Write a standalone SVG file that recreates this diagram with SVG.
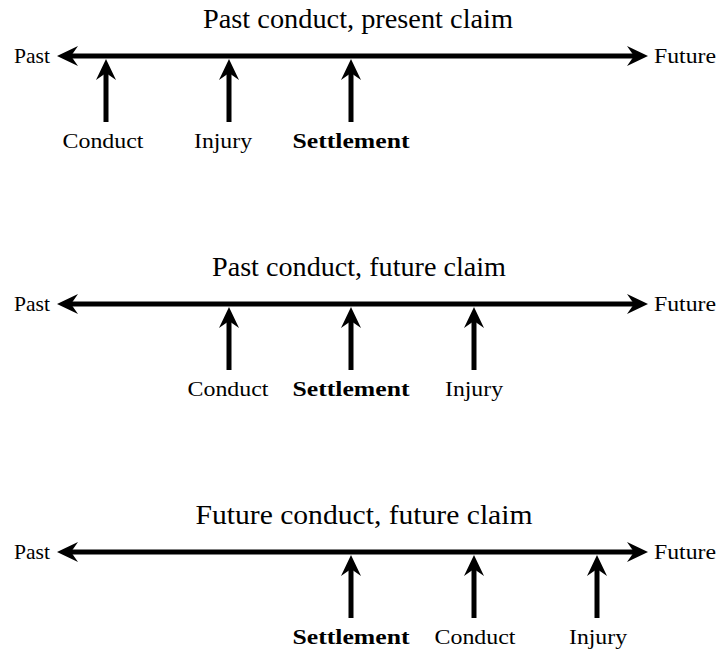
<svg xmlns="http://www.w3.org/2000/svg" width="717" height="652" viewBox="0 0 717 652">
<defs>
<marker id="head" viewBox="-22 -11 23 22" refX="-13" refY="0" markerWidth="23" markerHeight="22" markerUnits="userSpaceOnUse" orient="auto-start-reverse">
<path d="M0,0 L-21,-10 L-14,0 L-21,10 Z" fill="#000"/>
</marker>
</defs>
<style>
.ln{stroke:#000;stroke-width:5;fill:none}
.tl{marker-start:url(#head);marker-end:url(#head)}
.ev{marker-end:url(#head)}
text{font-family:"Liberation Serif","Times New Roman",serif;fill:#000}
.title{font-size:27px;text-anchor:middle}
.lab{font-size:22px;text-anchor:middle}
.b{font-weight:bold}
.end{font-size:21px}
</style>
<g id="connectors">
<line class="ln tl" x1="70" y1="56" x2="635" y2="56"/>
<line class="ln ev" x1="106" y1="122" x2="106" y2="72"/>
<line class="ln ev" x1="229" y1="122" x2="229" y2="72"/>
<line class="ln ev" x1="351" y1="122" x2="351" y2="72"/>
<line class="ln tl" x1="70" y1="304" x2="635" y2="304"/>
<line class="ln ev" x1="229" y1="370" x2="229" y2="320"/>
<line class="ln ev" x1="351" y1="370" x2="351" y2="320"/>
<line class="ln ev" x1="474" y1="370" x2="474" y2="320"/>
<line class="ln tl" x1="70" y1="552" x2="635" y2="552"/>
<line class="ln ev" x1="351" y1="618" x2="351" y2="568"/>
<line class="ln ev" x1="474" y1="618" x2="474" y2="568"/>
<line class="ln ev" x1="597" y1="618" x2="597" y2="568"/>
</g>
<g id="row1">
<text class="title" x="358" y="28" textLength="310" lengthAdjust="spacingAndGlyphs">Past conduct, present claim</text>
<text class="end" x="14" y="63" textLength="36" lengthAdjust="spacingAndGlyphs">Past</text>
<text class="end" x="654" y="63" textLength="62" lengthAdjust="spacingAndGlyphs">Future</text>
<text class="lab" x="103" y="148" textLength="81" lengthAdjust="spacingAndGlyphs">Conduct</text>
<text class="lab" x="223" y="148" textLength="58" lengthAdjust="spacingAndGlyphs">Injury</text>
<text class="lab b" x="351" y="148" textLength="117" lengthAdjust="spacingAndGlyphs">Settlement</text>
</g>
<g id="row2">
<text class="title" x="359" y="276" textLength="294" lengthAdjust="spacingAndGlyphs">Past conduct, future claim</text>
<text class="end" x="14" y="311" textLength="36" lengthAdjust="spacingAndGlyphs">Past</text>
<text class="end" x="654" y="311" textLength="62" lengthAdjust="spacingAndGlyphs">Future</text>
<text class="lab" x="228" y="396" textLength="81" lengthAdjust="spacingAndGlyphs">Conduct</text>
<text class="lab b" x="351" y="396" textLength="117" lengthAdjust="spacingAndGlyphs">Settlement</text>
<text class="lab" x="474" y="396" textLength="58" lengthAdjust="spacingAndGlyphs">Injury</text>
</g>
<g id="row3">
<text class="title" x="364" y="524" textLength="337" lengthAdjust="spacingAndGlyphs">Future conduct, future claim</text>
<text class="end" x="14" y="559" textLength="36" lengthAdjust="spacingAndGlyphs">Past</text>
<text class="end" x="654" y="559" textLength="62" lengthAdjust="spacingAndGlyphs">Future</text>
<text class="lab b" x="351" y="644" textLength="117" lengthAdjust="spacingAndGlyphs">Settlement</text>
<text class="lab" x="475" y="644" textLength="81" lengthAdjust="spacingAndGlyphs">Conduct</text>
<text class="lab" x="598" y="644" textLength="58" lengthAdjust="spacingAndGlyphs">Injury</text>
</g>
</svg>
